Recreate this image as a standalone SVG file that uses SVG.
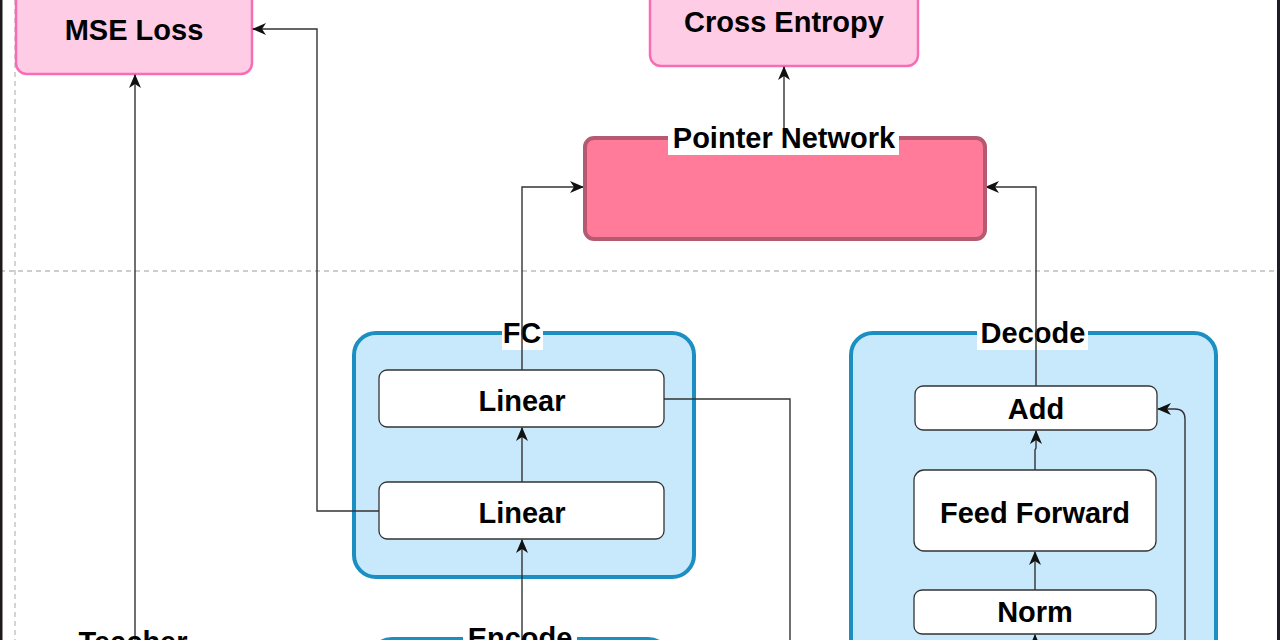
<svg xmlns="http://www.w3.org/2000/svg" width="1280" height="640" viewBox="0 0 1280 640">
  <defs>
    <style>
      .lbl { font-family: "Liberation Sans", Arial, sans-serif; font-weight: bold; font-size: 29px; fill: #000000; text-anchor: middle; }
      .pink { fill: #FFCCE6; stroke: #F76DB5; stroke-width: 2.5; }
      .ptr { fill: #FF7B99; stroke: #B55A70; stroke-width: 4; }
      .grp { fill: #C8E8FC; stroke: #1B8EC2; stroke-width: 4; }
      .box { fill: #FFFFFF; stroke: #333333; stroke-width: 1.3; }
      .bg { fill: #FFFFFF; }
      .conn { fill: none; stroke: #333333; stroke-width: 1.4; }
      .dash { fill: none; stroke: #BDBDBD; stroke-width: 1.3; stroke-dasharray: 5 4; }
    </style>
    <marker id="arr" viewBox="0 0 14 12" refX="13" refY="6" markerWidth="14" markerHeight="12" markerUnits="userSpaceOnUse" orient="auto">
      <path d="M0,0 L14,6 L0,12 L4,6 Z" fill="#111111"/>
    </marker>
  </defs>

  <rect x="0" y="0" width="1280" height="640" fill="#FFFFFF"/>

  <g id="guides">
    <line class="dash" x1="15" y1="0" x2="15" y2="640"/>
    <line class="dash" x1="0" y1="271" x2="1280" y2="271"/>
  </g>

  <g id="mse-loss">
    <rect class="pink" x="16" y="-20" width="236" height="94" rx="11"/>
    <text class="lbl" x="134" y="40">MSE Loss</text>
  </g>

  <g id="cross-entropy">
    <rect class="pink" x="650" y="-20" width="268" height="86" rx="11"/>
    <text class="lbl" x="784" y="32">Cross Entropy</text>
  </g>

  <g id="fc">
    <rect class="grp" x="354" y="333" width="340" height="244" rx="22"/>
    <rect class="bg" x="502" y="322" width="41" height="28"/>
    <text class="lbl" x="522" y="343">FC</text>
  </g>

  <g id="decode">
    <rect class="grp" x="851" y="333" width="365" height="340" rx="22"/>
    <rect class="bg" x="977" y="322" width="111" height="28"/>
    <text class="lbl" x="1033" y="343">Decode</text>
  </g>

  <g id="encode">
    <rect class="grp" x="370" y="639" width="300" height="120" rx="22"/>
  </g>

  <g id="linear-top">
    <rect class="box" x="379" y="370" width="285" height="57" rx="8"/>
    <text class="lbl" x="522" y="411">Linear</text>
  </g>

  <g id="linear-bottom">
    <rect class="box" x="379" y="482" width="285" height="57" rx="8"/>
    <text class="lbl" x="522" y="523">Linear</text>
  </g>

  <g id="add">
    <rect class="box" x="915" y="386" width="242" height="44" rx="8"/>
    <text class="lbl" x="1036" y="419">Add</text>
  </g>

  <g id="feed-forward">
    <rect class="box" x="914" y="470" width="242" height="81" rx="10"/>
    <text class="lbl" x="1035" y="523">Feed Forward</text>
  </g>

  <g id="norm">
    <rect class="box" x="914" y="590" width="242" height="44" rx="8"/>
    <text class="lbl" x="1035" y="622">Norm</text>
  </g>

  <g id="connectors">
    <path class="conn" d="M784,128 L784,67" marker-end="url(#arr)"/>
    <path class="conn" d="M522,370 L522,187 L583,187" marker-end="url(#arr)"/>
    <path class="conn" d="M1036,386 L1036,187 L986,187" marker-end="url(#arr)"/>
    <path class="conn" d="M379,511 L317,511 L317,29 L253,29" marker-end="url(#arr)"/>
    <path class="conn" d="M135,660 L135,75" marker-end="url(#arr)"/>
    <path class="conn" d="M522,482 L522,428" marker-end="url(#arr)"/>
    <path class="conn" d="M522,660 L522,540" marker-end="url(#arr)"/>
    <path class="conn" d="M664,399 L790,399 L790,660"/>
    <path class="conn" d="M1035,470 L1035,450 L1036,448 L1036,431" marker-end="url(#arr)"/>
    <path class="conn" d="M1035,590 L1035,552" marker-end="url(#arr)"/>
    <path class="conn" d="M1035,660 L1035,635" marker-end="url(#arr)"/>
    <path class="conn" d="M1185,660 L1185,419 Q1185,409 1175,409 L1158,409" marker-end="url(#arr)"/>
  </g>

  <g id="pointer-network">
    <rect class="ptr" x="585" y="138" width="400" height="101" rx="9"/>
    <rect class="bg" x="668" y="126" width="231" height="29"/>
    <line class="conn" x1="784" y1="126" x2="784" y2="131"/>
    <text class="lbl" x="784" y="148">Pointer Network</text>
  </g>

  <g id="teacher">
    <text class="lbl" x="133" y="652">Teacher</text>
  </g>

  <g id="encode-label">
    <rect class="bg" x="463" y="626" width="114" height="20"/>
    <line class="conn" x1="522" y1="626" x2="522" y2="640"/>
    <text class="lbl" x="520" y="648">Encode</text>
  </g>

  <g id="frame-edges">
    <rect x="0" y="0" width="2.5" height="640" fill="#1E1A1C"/>
    <rect x="1277" y="0" width="3" height="640" fill="#1C1E26"/>
  </g>
</svg>
